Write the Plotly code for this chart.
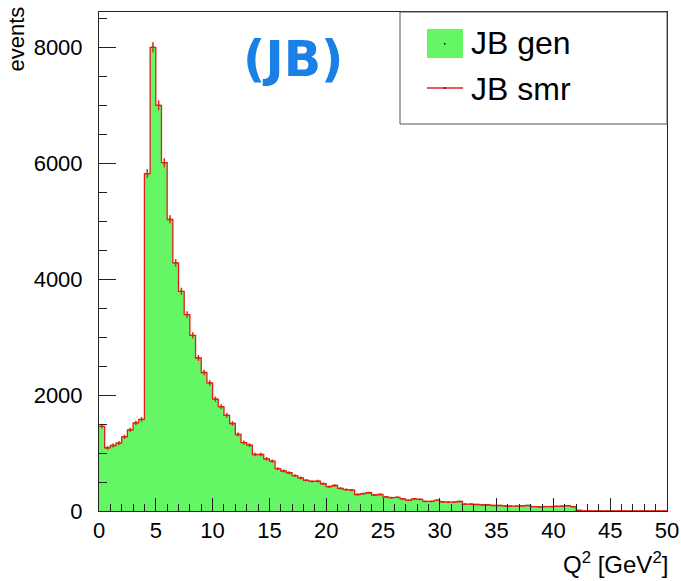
import numpy as np
import plotly.graph_objects as go

# ---- data (bin width 0.5 GeV^2, 0..50) ----
bin_lo = 0.0
bin_hi = 50.0
n_bins = 100
jb_smr = [1460, 1090, 1130, 1170, 1280, 1400, 1520, 1580, 5820, 8000,
          7000, 6010, 5030, 4280, 3790, 3390, 3030, 2640, 2390, 2210,
          1930, 1800, 1650, 1510, 1320, 1180, 1135, 975, 975, 900,
          860, 730, 690, 660, 610, 570, 530, 510, 515, 470,
          420, 440, 390, 370, 360, 285, 300, 315, 275, 285,
          245, 230, 235, 210, 185, 210, 200, 165, 165, 185,
          158, 152, 152, 164, 118, 118, 112, 106, 106, 95,
          95, 89, 83, 83, 89, 95, 77, 72, 77, 77,
          80, 83, 92, 75, 12, 0, 0, 0, 0, 0,
          0, 0, 0, 0, 0, 0, 0, 0, 0, 0]
jb_gen = list(jb_smr)
x_ticks = [0, 5, 10, 15, 20, 25, 30, 35, 40, 45, 50]
y_ticks = [0, 2000, 4000, 6000, 8000]

edges = np.linspace(bin_lo, bin_hi, n_bins + 1)
centers = 0.5 * (edges[:-1] + edges[1:])
gen = np.array(jb_gen, dtype=float)
smr = np.array(jb_smr, dtype=float)

GREEN = "rgb(100,246,100)"
RED = "rgb(226,32,26)"

W, H = 681, 581
L, R, T, B = 99, 14, 12, 70
PW, PH = W - L - R, H - T - B


def px(xp):
    return (xp - L) / PW


def py(yp):
    return (H - B - yp) / PH


fig = go.Figure()

# gen: filled step histogram
fig.add_trace(go.Scatter(
    x=np.append(edges[:-1], edges[-1]), y=np.append(gen, gen[-1]),
    mode="lines", line=dict(shape="hv", width=0, color=GREEN),
    fill="tozeroy", fillcolor=GREEN, showlegend=False, hoverinfo="skip"))
# gen error bars
fig.add_trace(go.Scatter(
    x=centers, y=gen, mode="markers", marker=dict(size=1, color=GREEN),
    error_y=dict(type="data", array=np.sqrt(gen), color=GREEN, thickness=1.5, width=0),
    showlegend=False, hoverinfo="skip"))
# smr: red step line
fig.add_trace(go.Scatter(
    x=np.append(edges[:-1], edges[-1]), y=np.append(smr, smr[-1]),
    mode="lines", line=dict(shape="hv", width=1.3, color=RED),
    showlegend=False, hoverinfo="skip"))
# smr error crosses
fig.add_trace(go.Scatter(
    x=centers, y=smr, mode="markers", marker=dict(size=1, color=RED),
    error_y=dict(type="data", array=np.sqrt(smr), color=RED, thickness=1.3, width=0),
    error_x=dict(type="constant", value=0.17, color=RED, thickness=1.3, width=0),
    showlegend=False, hoverinfo="skip"))

FONT = "Liberation Sans, Arial, sans-serif"
fig.update_layout(
    width=W, height=H, margin=dict(l=L, r=R, t=T, b=B, autoexpand=False),
    paper_bgcolor="white", plot_bgcolor="white",
    showlegend=False,
    font=dict(family=FONT, color="black", size=22),
    xaxis=dict(range=[bin_lo, bin_hi], tickvals=x_ticks,
               ticktext=[str(v) for v in x_ticks], automargin=False,
               ticks="inside", ticklen=13, tickwidth=1, tickcolor="#222",
               minor=dict(dtick=1, ticks="inside", ticklen=7, tickcolor="#222"),
               showline=True, linecolor="#222", linewidth=1, mirror=True,
               showgrid=False, zeroline=False,
               tickfont=dict(size=22, family=FONT), ticklabelstandoff=0),
    yaxis=dict(range=[0, 8610], tickvals=y_ticks,
               ticktext=[str(v) for v in y_ticks], automargin=False,
               ticks="inside", ticklen=17, tickwidth=1, tickcolor="#222",
               minor=dict(dtick=500, ticks="inside", ticklen=8, tickcolor="#222"),
               showline=True, linecolor="#222", linewidth=1, mirror=True,
               showgrid=False, zeroline=False,
               tickfont=dict(size=22, family=FONT), ticklabelstandoff=11),
)

# axis titles
fig.add_annotation(xref="paper", yref="paper", x=px(670), y=py(563),
                   xanchor="right", yanchor="middle", showarrow=False,
                   text="Q<sup>2</sup> [GeV<sup>2</sup>]",
                   font=dict(size=24, family=FONT, color="black"))
fig.add_annotation(xref="paper", yref="paper", x=px(16), y=py(5),
                   xanchor="center", yanchor="top", showarrow=False,
                   textangle=-90, text="events",
                   font=dict(size=22, family=FONT, color="black"))
# (JB) label
fig.add_annotation(xref="paper", yref="paper", x=px(293), y=py(60),
                   xanchor="center", yanchor="middle", showarrow=False,
                   text="<b>(JB)</b>",
                   font=dict(size=49, family="DejaVu Sans, sans-serif", color="#1a80e6"))

# legend box (drawn manually)
fig.add_shape(type="rect", xref="paper", yref="paper",
              x0=px(400), x1=px(667), y0=py(124), y1=py(12),
              line=dict(color="#555", width=1), fillcolor="white", layer="above")
fig.add_shape(type="rect", xref="paper", yref="paper",
              x0=px(427), x1=px(463), y0=py(58), y1=py(29),
              line=dict(width=0), fillcolor=GREEN, layer="above")
fig.add_shape(type="rect", xref="paper", yref="paper",
              x0=px(444), x1=px(445.5), y0=py(44.5), y1=py(43),
              line=dict(width=0), fillcolor="black", layer="above")
fig.add_shape(type="line", xref="paper", yref="paper",
              x0=px(427), x1=px(463), y0=py(88), y1=py(88),
              line=dict(color=RED, width=1.3), layer="above")
fig.add_shape(type="rect", xref="paper", yref="paper",
              x0=px(444), x1=px(445.5), y0=py(88.7), y1=py(87.3),
              line=dict(width=0), fillcolor="black", layer="above")
fig.add_annotation(xref="paper", yref="paper", x=px(469), y=py(43),
                   xanchor="left", yanchor="middle", showarrow=False,
                   text="JB gen", font=dict(size=32, family=FONT, color="black"))
fig.add_annotation(xref="paper", yref="paper", x=px(469), y=py(89),
                   xanchor="left", yanchor="middle", showarrow=False,
                   text="JB smr", font=dict(size=32, family=FONT, color="black"))

fig.write_html("out.html")
